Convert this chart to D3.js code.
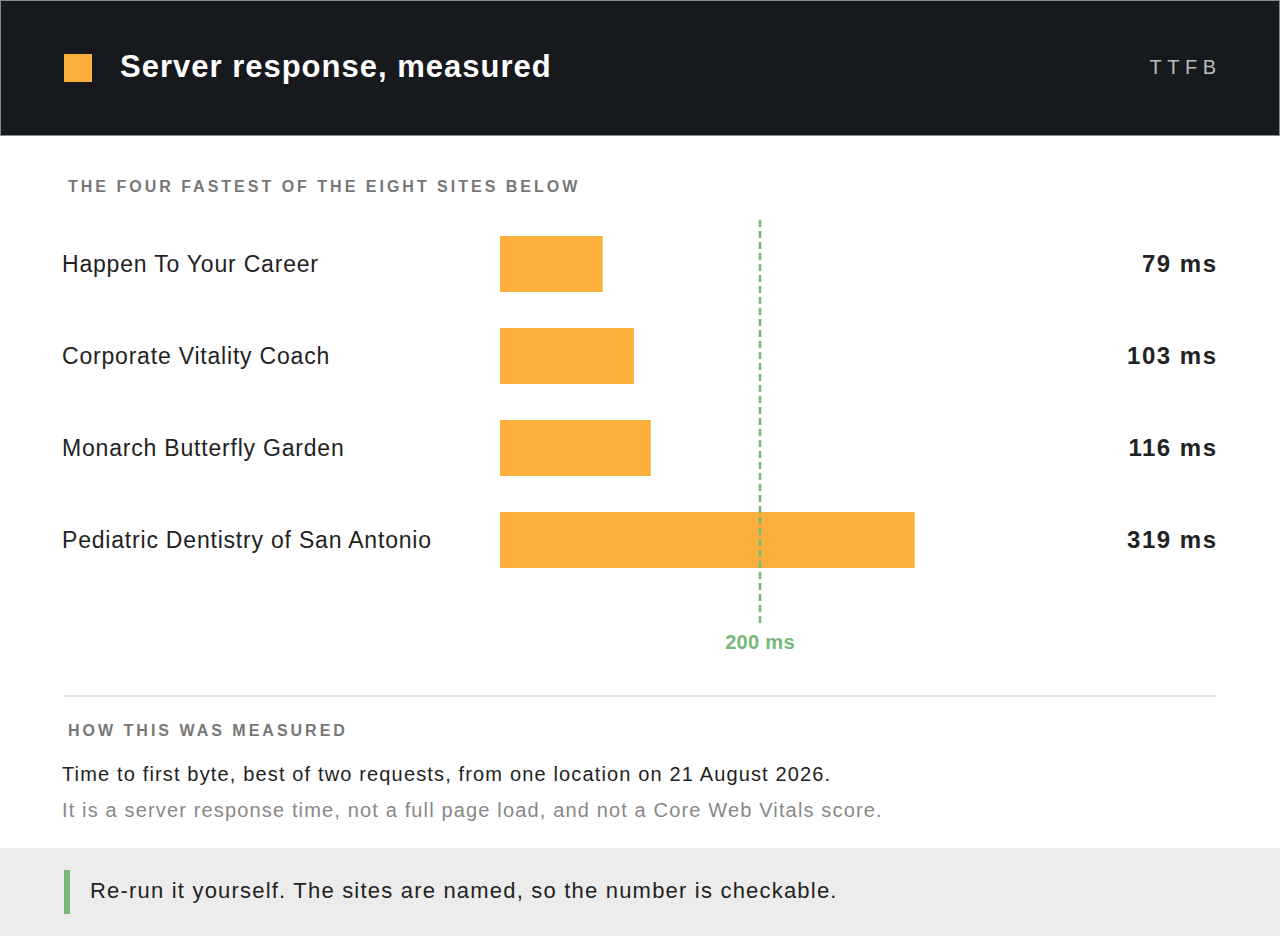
<!DOCTYPE html>
<html>
<head>
<meta charset="utf-8">
<script src="https://cdn.jsdelivr.net/npm/d3@7"></script>
<style>
  body { margin: 0; background: #fff; }
  svg { display: block; font-family: "Liberation Sans", Arial, sans-serif; }
</style>
</head>
<body>
<div id="chart"></div>
<script>
var sites = ["Happen To Your Career", "Corporate Vitality Coach", "Monarch Butterfly Garden", "Pediatric Dentistry of San Antonio"];
var ttfb = [79, 103, 116, 319];
var threshold = 200;

var width = 1280, height = 936;
var orange = "#fcaf3c", green = "#74b97a";

var svg = d3.select("#chart")
            .append("svg")
            .attr("width", width)
            .attr("height", height);

// header
svg.append("rect").attr("width", width).attr("height", 136).attr("fill", "#16191e");
svg.append("rect").attr("x", 0.5).attr("y", 0.5).attr("width", width - 1).attr("height", 135)
    .attr("fill", "none").attr("stroke", "#888");
svg.append("rect").attr("x", 64).attr("y", 54).attr("width", 28).attr("height", 28).attr("fill", orange);
svg.append("text").attr("x", 120).attr("y", 77)
    .attr("fill", "#fff").attr("font-size", 31).attr("font-weight", "bold").attr("letter-spacing", 1)
    .text("Server response, measured");
svg.append("text").attr("x", 1216 + 5.5).attr("y", 74).attr("text-anchor", "end")
    .attr("fill", "#bdbdbd").attr("font-size", 20).attr("letter-spacing", 5.5)
    .text("TTFB");

// section label
svg.append("text").attr("x", 68).attr("y", 192)
    .attr("fill", "#777").attr("font-size", 16).attr("font-weight", "bold").attr("letter-spacing", 3)
    .text("THE FOUR FASTEST OF THE EIGHT SITES BELOW");

var x = d3.scaleLinear().domain([0, 550]).range([500, 1215]);
var y = d3.scaleBand().domain(sites).range([218, 586]).paddingInner(36 / 92).paddingOuter(18 / 92);

var rows = svg.selectAll("g.row")
    .data(sites)
    .enter()
    .append("g")
    .attr("class", "row");

rows.append("rect")
    .attr("x", x(0))
    .attr("y", (d) => y(d))
    .attr("width", (d, i) => x(ttfb[i]) - x(0))
    .attr("height", y.bandwidth())
    .attr("fill", orange);

rows.append("text")
    .attr("x", 62)
    .attr("y", (d) => y(d) + y.bandwidth() / 2 + 8)
    .attr("fill", "#222").attr("font-size", 23).attr("letter-spacing", 0.8)
    .text((d) => d);

rows.append("text")
    .attr("x", 1216 + 1.5)
    .attr("y", (d) => y(d) + y.bandwidth() / 2 + 8)
    .attr("text-anchor", "end")
    .attr("fill", "#222").attr("font-size", 24).attr("font-weight", "bold").attr("letter-spacing", 1.5)
    .text((d, i) => ttfb[i] + " ms");

// 200 ms reference line
svg.append("line")
    .attr("x1", x(threshold)).attr("x2", x(threshold))
    .attr("y1", 220).attr("y2", 624)
    .attr("stroke", green).attr("stroke-width", 2.5).attr("stroke-dasharray", "7,4");
svg.append("text").attr("x", x(threshold)).attr("y", 649).attr("text-anchor", "middle")
    .attr("fill", green).attr("font-size", 20).attr("font-weight", "bold").attr("letter-spacing", 0.3)
    .text(threshold + " ms");

// divider
svg.append("line").attr("x1", 64).attr("x2", 1216).attr("y1", 696).attr("y2", 696)
    .attr("stroke", "#e2e2e2").attr("stroke-width", 2);

svg.append("text").attr("x", 68).attr("y", 736)
    .attr("fill", "#777").attr("font-size", 16).attr("font-weight", "bold").attr("letter-spacing", 3)
    .text("HOW THIS WAS MEASURED");
svg.append("text").attr("x", 62).attr("y", 781)
    .attr("fill", "#222").attr("font-size", 20).attr("letter-spacing", 1.15)
    .text("Time to first byte, best of two requests, from one location on 21 August 2026.");
svg.append("text").attr("x", 62).attr("y", 817)
    .attr("fill", "#888").attr("font-size", 20).attr("letter-spacing", 1.15)
    .text("It is a server response time, not a full page load, and not a Core Web Vitals score.");

// footer
svg.append("rect").attr("x", 0).attr("y", 848).attr("width", width).attr("height", 88).attr("fill", "#ececec");
svg.append("rect").attr("x", 64).attr("y", 870).attr("width", 6).attr("height", 44).attr("fill", green);
svg.append("text").attr("x", 90).attr("y", 898)
    .attr("fill", "#222").attr("font-size", 22).attr("letter-spacing", 1.2)
    .text("Re-run it yourself. The sites are named, so the number is checkable.");
</script>
</body>
</html>
